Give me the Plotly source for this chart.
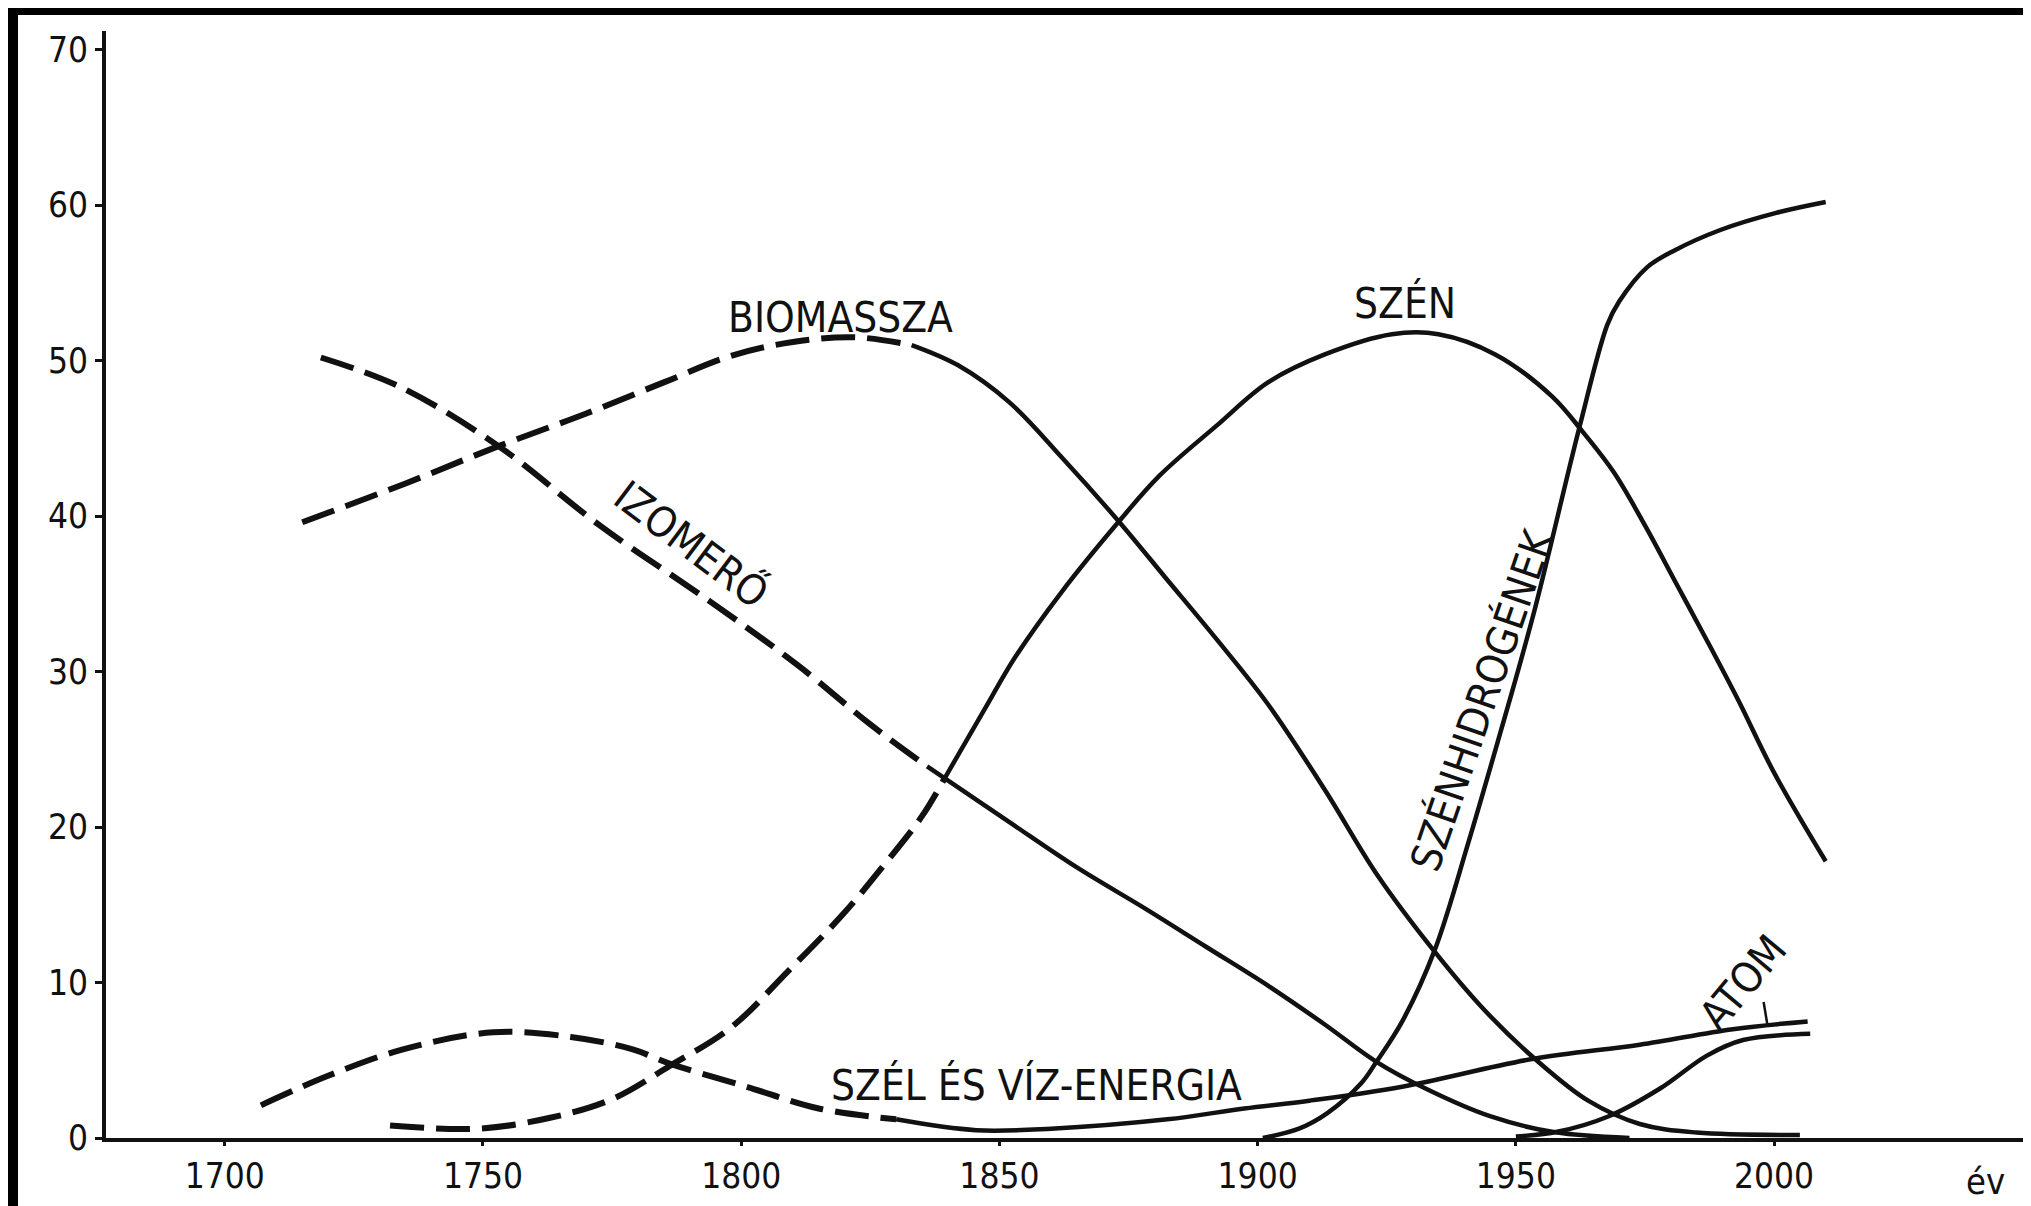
import plotly.graph_objects as go

# ---------------- data (year, share in %) ----------------
biomassza_years = [1715, 1735, 1753, 1770, 1785, 1798, 1810, 1822, 1833, 1842, 1852, 1862,
                   1873, 1882, 1892, 1902, 1913, 1923, 1934, 1944, 1954, 1964, 1974, 1985, 2005]
biomassza_values = [39.6, 42.1, 44.5, 46.6, 48.6, 50.3, 51.2, 51.5, 51.0, 49.7, 47.3, 43.8,
                    39.7, 36.1, 32.1, 27.9, 22.4, 17.0, 12.1, 8.2, 5.0, 2.4, 0.9, 0.35, 0.2]
biomassza_dash_end = 1833

izomero_years = [1718.6, 1734, 1753, 1773, 1794, 1811, 1825, 1836, 1852, 1865, 1878, 1890,
                 1902, 1913, 1923, 1933, 1945, 1957, 1972]
izomero_values = [50.2, 48.3, 44.5, 39.3, 34.5, 30.4, 26.6, 23.9, 20.3, 17.4, 14.8, 12.3,
                  9.8, 7.3, 4.9, 3.1, 1.4, 0.4, 0.0]
izomero_dash_end = 1836

szen_years = [1732, 1749, 1763, 1775, 1786, 1798, 1809, 1820, 1828, 1835, 1839.5, 1847,
              1853, 1862, 1873, 1881, 1892, 1902, 1913, 1926, 1935, 1946, 1957, 1963,
              1969, 1975, 1981, 1987, 1993, 2000, 2010]
szen_values = [0.8, 0.6, 1.3, 2.5, 4.6, 7.1, 10.7, 14.5, 17.7, 20.7, 23.2, 27.5,
               30.9, 35.1, 39.6, 42.6, 45.8, 48.6, 50.4, 51.7, 51.7, 50.4, 47.7, 45.4,
               42.8, 39.4, 35.7, 32.0, 28.2, 23.5, 17.8]
szen_dash_end = 1839.5

szenhidrogenek_years = [1901, 1908, 1913.5, 1920, 1923, 1928, 1934.3, 1940.8, 1946.5, 1953.5,
                        1962.3, 1967.7, 1970, 1975.4, 1980.8, 1989.6, 2000.4, 2010]
szenhidrogenek_values = [0.0, 0.6, 1.6, 3.5, 4.9, 7.5, 12.1, 19.0, 25.5, 33.8,
                         45.7, 52.3, 53.8, 56.0, 57.1, 58.4, 59.5, 60.2]

szel_viz_years = [1707, 1720, 1734.5, 1752, 1767, 1779, 1786, 1801, 1815, 1830, 1845.5,
                  1860, 1882.5, 1897.4, 1910, 1928, 1953.5, 1974, 1992, 2006.5]
szel_viz_values = [2.1, 4.0, 5.7, 6.8, 6.5, 5.7, 4.8, 3.3, 1.9, 1.2, 0.5,
                   0.6, 1.2, 1.9, 2.4, 3.3, 5.1, 6.0, 7.0, 7.5]
szel_viz_dash_end = 1830

atom_years = [1950, 1958, 1968, 1978, 1987, 1994, 2007]
atom_values = [0.1, 0.4, 1.4, 3.2, 5.3, 6.3, 6.7]

x_tick_values = [1700, 1750, 1800, 1850, 1900, 1950, 2000]
y_tick_values = [0, 10, 20, 30, 40, 50, 60, 70]

# ---------------- styling ----------------
FONT = "Liberation Sans Narrow, DejaVu Sans Condensed, Liberation Sans, sans-serif"
INK = "#111111"
DASH = "34px,12px"
W_SOLID = 4.5
W_DASH = 6


def split(years, values, cut):
    dy = [(y, v) for y, v in zip(years, values) if y <= cut]
    sy = [(y, v) for y, v in zip(years, values) if y >= cut]
    return dy, sy


fig = go.Figure()


def add_series(name, years, values, cut=None):
    if cut is None:
        fig.add_trace(go.Scatter(x=years, y=values, mode="lines", name=name,
                                 line=dict(color=INK, width=W_SOLID, shape="spline", smoothing=1.0)))
        return
    d, s = split(years, values, cut)
    fig.add_trace(go.Scatter(x=[p[0] for p in d], y=[p[1] for p in d], mode="lines", name=name,
                             line=dict(color=INK, width=W_DASH, dash=DASH, shape="spline", smoothing=1.0)))
    fig.add_trace(go.Scatter(x=[p[0] for p in s], y=[p[1] for p in s], mode="lines", name=name,
                             line=dict(color=INK, width=W_SOLID, shape="spline", smoothing=1.0)))


add_series("Biomassza", biomassza_years, biomassza_values, biomassza_dash_end)
add_series("Izomerő", izomero_years, izomero_values, izomero_dash_end)
add_series("Szén", szen_years, szen_values, szen_dash_end)
add_series("Szénhidrogének", szenhidrogenek_years, szenhidrogenek_values)
add_series("Szél és víz-energia", szel_viz_years, szel_viz_values, szel_viz_dash_end)
add_series("Atom", atom_years, atom_values)

L, R, T, B = 98, 0, 23, 76
W, H = 2031, 1206
pw, ph = W - L - R, H - T - B

LBL = dict(family=FONT, size=42, color=INK)
annotations = [
    dict(x=1819.3, y=52.8, text="BIOMASSZA", showarrow=False, font=LBL),
    dict(x=1928.5, y=53.7, text="SZÉN", showarrow=False, font=LBL),
    dict(x=1790.3, y=38.2, text="IZOMERŐ", showarrow=False, font=LBL, textangle=37),
    dict(x=1943.3, y=28.2, text="SZÉNHIDROGÉNEK", showarrow=False, font=LBL, textangle=-71),
    dict(x=1857.2, y=3.4, text="SZÉL ÉS VÍZ-ENERGIA", showarrow=False, font=LBL),
    dict(x=1994, y=10.0, text="ATOM", showarrow=False, font=LBL, textangle=-50),
    dict(x=1998.7, y=7.3, text="", showarrow=True, arrowhead=0, arrowwidth=2.5,
         arrowcolor=INK, ax=-4, ay=-24),
    dict(x=2041, xref="x", y=-43 / ph, yref="paper", yanchor="middle", text="év",
         showarrow=False, font=dict(family=FONT, size=36, color=INK)),
]

shapes = [
    # black scan borders (left and top)
    dict(type="rect", xref="paper", yref="paper", x0=-L / pw, x1=(10 - L) / pw,
         y0=-B / ph, y1=(ph + T) / ph, fillcolor="black", line=dict(width=0), layer="above"),
    dict(type="rect", xref="paper", yref="paper", x0=-L / pw, x1=1,
         y0=(ph + T - 7) / ph, y1=(ph + T) / ph, fillcolor="black", line=dict(width=0), layer="above"),
]

fig.update_layout(
    width=W, height=H,
    margin=dict(l=L, r=R, t=T, b=B),
    paper_bgcolor="white", plot_bgcolor="white",
    showlegend=False,
    annotations=annotations,
    shapes=shapes,
    font=dict(family=FONT, color=INK),
    xaxis=dict(range=[1677, 2051.3], tickvals=x_tick_values, ticktext=[str(v) for v in x_tick_values],
               showline=True, linecolor=INK, linewidth=4, ticks="outside", ticklen=4, tickwidth=3,
               tickcolor=INK, showgrid=False, zeroline=False, tickfont=dict(family=FONT, size=35, color=INK)),
    yaxis=dict(range=[0, 71.2], tickvals=y_tick_values, ticktext=[str(v) for v in y_tick_values],
               showline=True, linecolor=INK, linewidth=4, ticks="outside", ticklen=7, tickwidth=3,
               tickcolor=INK, showgrid=False, zeroline=False, tickfont=dict(family=FONT, size=35, color=INK)),
)

fig.write_html("out.html")
